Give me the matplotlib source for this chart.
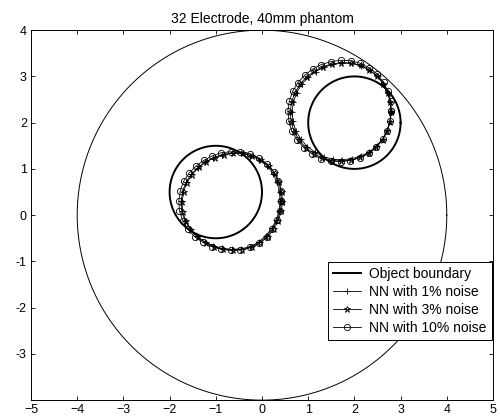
import numpy as np
import matplotlib
matplotlib.use("Agg")
import matplotlib.pyplot as plt

plt.rcParams['font.family'] = ['Liberation Sans', 'DejaVu Sans']

# Phantom and object geometry
tank_radius = 4.0
obj_centers = [(-1.0, 0.5), (2.0, 2.0)]
obj_radius = 1.0

# NN reconstructions: centre and radius at 32 equal angles, per object, per noise level
labels = ['NN with 1% noise', 'NN with 3% noise', 'NN with 10% noise']
markers = ['+', '*', 'o']

nn1_centers = [(-0.66, 0.30), (-0.63, 0.29), (-0.68, 0.31)]
nn1_radii = [
    [1.05, 1.06, 1.07, 1.08, 1.09, 1.08, 1.07, 1.06, 1.04, 1.03, 1.02, 1.02,
     1.03, 1.05, 1.07, 1.08, 1.09, 1.10, 1.09, 1.08, 1.07, 1.05, 1.04, 1.04,
     1.04, 1.05, 1.06, 1.06, 1.05, 1.05, 1.05, 1.05],
    [1.07, 1.08, 1.09, 1.10, 1.10, 1.09, 1.08, 1.07, 1.05, 1.04, 1.03, 1.04,
     1.05, 1.06, 1.08, 1.09, 1.10, 1.11, 1.10, 1.09, 1.08, 1.06, 1.05, 1.05,
     1.05, 1.06, 1.07, 1.07, 1.07, 1.06, 1.06, 1.07],
    [1.10, 1.11, 1.12, 1.12, 1.12, 1.11, 1.10, 1.08, 1.06, 1.06, 1.05, 1.05,
     1.06, 1.08, 1.10, 1.11, 1.12, 1.13, 1.12, 1.11, 1.10, 1.08, 1.07, 1.07,
     1.07, 1.08, 1.09, 1.10, 1.10, 1.09, 1.09, 1.10],
]

nn2_centers = [(1.74, 2.24), (1.72, 2.23), (1.70, 2.25)]
nn2_radii = [
    [1.05, 1.06, 1.06, 1.07, 1.08, 1.07, 1.07, 1.06, 1.05, 1.04, 1.04, 1.04,
     1.05, 1.06, 1.07, 1.08, 1.09, 1.09, 1.09, 1.08, 1.07, 1.06, 1.06, 1.05,
     1.04, 1.04, 1.04, 1.05, 1.05, 1.05, 1.05, 1.05],
    [1.07, 1.08, 1.08, 1.09, 1.10, 1.09, 1.09, 1.08, 1.07, 1.06, 1.06, 1.06,
     1.07, 1.08, 1.09, 1.10, 1.11, 1.11, 1.11, 1.10, 1.09, 1.08, 1.08, 1.07,
     1.06, 1.06, 1.06, 1.07, 1.07, 1.07, 1.07, 1.07],
    [1.10, 1.11, 1.11, 1.12, 1.13, 1.12, 1.12, 1.11, 1.10, 1.09, 1.09, 1.09,
     1.10, 1.11, 1.12, 1.13, 1.14, 1.14, 1.14, 1.13, 1.12, 1.11, 1.11, 1.10,
     1.09, 1.09, 1.09, 1.10, 1.10, 1.10, 1.10, 1.10],
]

fig = plt.figure(figsize=(5.0, 4.19), dpi=100)
ax = fig.add_axes([0.062, 0.045, 0.924, 0.883])

t = np.linspace(0, 2 * np.pi, 400)
ax.plot(tank_radius * np.cos(t), tank_radius * np.sin(t), color='black', lw=0.7)
for k, (cx, cy) in enumerate(obj_centers):
    ax.plot(cx + obj_radius * np.cos(t), cy + obj_radius * np.sin(t),
            color='black', lw=1.4, label='Object boundary' if k == 0 else None)

for centers, radii in [(nn1_centers, nn1_radii), (nn2_centers, nn2_radii)]:
    for i in range(3):
        r = np.array(radii[i] + radii[i][:1])
        a = np.linspace(0, 2 * np.pi, len(r))
        cx, cy = centers[i]
        ax.plot(cx + r * np.cos(a), cy + r * np.sin(a), color='black', lw=0.6,
                marker=markers[i], ms=4.5, mfc='none', mew=0.6,
                label=labels[i] if centers is nn1_centers else None)

ax.set_xlim(-5, 5)
ax.set_ylim(-4, 4)
ax.set_xticks(range(-5, 6))
ax.set_yticks(range(-4, 5))
ax.set_yticklabels([''] + [str(v) for v in range(-3, 5)])
ax.tick_params(direction='in', length=3, width=0.6, labelsize=9,
               top=True, right=True, pad=3)
for s in ax.spines.values():
    s.set_linewidth(0.7)
ax.set_title('32 Electrode, 40mm phantom', fontsize=10, pad=5)

leg = ax.legend(loc='lower right', bbox_to_anchor=(0.997, 0.162), fontsize=10,
                fancybox=False, edgecolor='black', framealpha=1,
                labelspacing=0.3, handlelength=2.0, handletextpad=0.6,
                borderpad=0.35, borderaxespad=0)
leg.get_frame().set_linewidth(0.7)

fig.savefig('out.png', dpi=100)
